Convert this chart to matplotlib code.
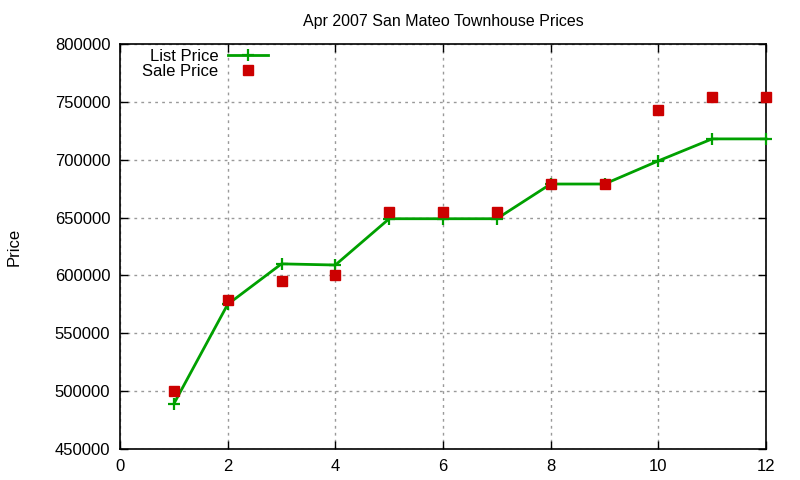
import matplotlib
matplotlib.use('Agg')
import matplotlib.pyplot as plt

plt.rcParams['font.family'] = ['Liberation Sans', 'DejaVu Sans']

months = [1, 2, 3, 4, 5, 6, 7, 8, 9, 10, 11, 12]
list_price = [489000, 575000, 610000, 609000, 649000, 649000, 649000,
              679000, 679000, 699000, 718000, 718000]
sale_price = [500000, 579000, 595000, 600000, 655000, 655000, 655000,
              679000, 679000, 743000, 754000, 754000]

fig = plt.figure(figsize=(8, 4.8), dpi=100)
ax = fig.add_axes([0.15, 0.0646, 0.8075, 0.8437])

ax.plot(months, list_price, color='#00a000', lw=2, marker='+', ms=9, mew=1.6,
        label='List Price', clip_on=False, zorder=3)
ax.plot(months, sale_price, ls='none', color='#cc0000', marker='s', ms=6.5,
        label='Sale Price', clip_on=False, zorder=4)

ax.set_xlim(0, 12)
ax.set_ylim(450000, 800000)
ax.set_xticks(range(0, 13, 2))
ax.set_yticks(range(450000, 800001, 50000))
ax.tick_params(direction='in', top=True, right=True, length=6, width=1,
               labelsize=12, pad=7)
ax.grid(True, color='#999999', ls=(0, (2, 3)), lw=1)
for s in ax.spines.values():
    s.set_linewidth(1.2)

ax.set_title('Apr 2007 San Mateo Townhouse Prices', fontsize=11.5, pad=13)
ax.set_ylabel('Price', fontsize=12)
ax.yaxis.set_label_coords(-0.153, 0.5)

# gnuplot-style key: label first, right aligned
leg = ax.legend(loc='upper left', bbox_to_anchor=(0.016, 1.017), frameon=False,
                markerfirst=False, fontsize=12, handlelength=2.4,
                labelspacing=0.0, handletextpad=0.6, borderaxespad=0.3)
leg._legend_handle_box.get_children()[0].align = 'right'

fig.savefig('out.png', dpi=100)
